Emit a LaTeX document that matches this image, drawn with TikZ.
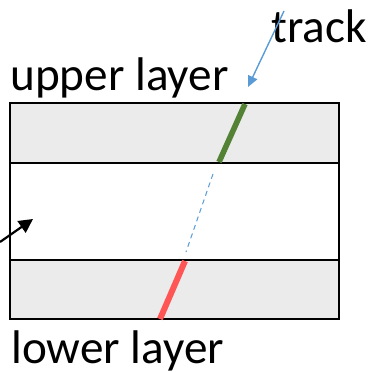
\documentclass[tikz,border=0pt]{standalone}
\usepackage{fontspec}
\setmainfont{Carlito}
\usetikzlibrary{positioning,calc,arrows.meta}

\definecolor{layergray}{HTML}{EBEBEB}
\definecolor{trackblue}{HTML}{5B9BD5}
\definecolor{hitgreen}{HTML}{548235}
\definecolor{hitred}{HTML}{FF5555}

\begin{document}
\begin{tikzpicture}[x=0.5pt,y=-0.5pt,
  every node/.style={font=\fontsize{23.6}{28}\selectfont,inner sep=0pt,anchor=base west},
  layer/.style={draw,line width=1.1pt}]
\useasboundingbox (0,0) rectangle (371,372);
% the three layers
\draw[layer,fill=layergray] (10,103) rectangle (339,163);
\draw[layer,fill=white] (10,163) rectangle (339,260);
\draw[layer,fill=layergray] (10,260) rectangle (339,319);
% labels
\node (upper) at (10,90) {upper layer};
\node (lower) at (11,363) {lower layer};
\node (track) at (271,42) {track};
% track pieces
\coordinate (g1) at (245,104);
\coordinate (g2) at (219,162);
\coordinate (d1) at (213,174);
\coordinate (d2) at (186,252);
\coordinate (r1) at (185,261);
\coordinate (r2) at (160,319);
\draw[hitgreen,line width=2.8pt] (g1) -- (g2);
\draw[trackblue,line width=0.5pt,dash pattern=on 2.5pt off 2pt] (d1) -- (d2);
\draw[hitred,line width=3pt] (r1) -- (r2);
% pointers
\coordinate (trackfrom) at (284,11);
\coordinate (tracktip) at (248,87);
\draw[trackblue,line width=0.7pt,-{Triangle[length=5.5pt,width=5pt]}] (trackfrom) -- (tracktip);
\coordinate (ptrfrom) at (0,242);
\coordinate (ptrtip) at (33,219);
\draw[line width=1.1pt,-{Triangle[length=7pt,width=7pt]}] (ptrfrom) -- (ptrtip);
\end{tikzpicture}
\end{document}
